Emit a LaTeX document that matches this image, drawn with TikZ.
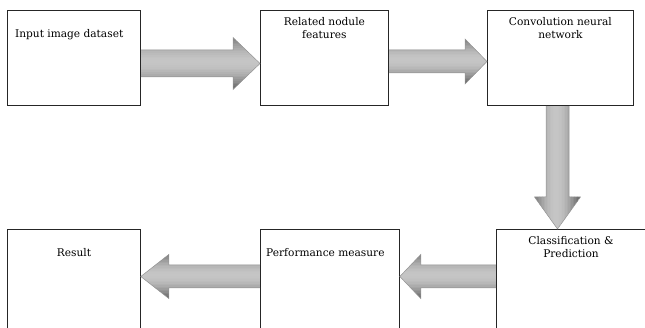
\documentclass[tikz,border=0pt]{standalone}
\usepackage{fontspec}
\setmainfont{DejaVu Serif}
\usetikzlibrary{calc}
% horizontal block arrow: #1 start, #2 tip, #3 shaft half width, #4 head half width, #5 head length (signed)
\newcommand\hblockarrow[5]{%
  \begin{scope}
    \clip let \p1=(#1), \p2=(#2) in
      (\x1,\y1+#3pt) -- (\x2-#5pt,\y1+#3pt) -- (\x2-#5pt,\y1+#4pt) -- (\x2,\y2)
      -- (\x2-#5pt,\y1-#4pt) -- (\x2-#5pt,\y1-#3pt) -- (\x1,\y1-#3pt) -- cycle;
    \foreach \i in {0,...,29}{%
      \pgfmathsetmacro\st{2*#4/30}%
      \pgfmathsetmacro\yo{-#4+\i*\st}%
      \pgfmathsetmacro\dk{52-34*sin(180*(\i+0.5)/30)+10*\i/30}%
      \fill[black!\dk] ($(#1)+(0,\yo)$) rectangle ($(#2)+(0,\yo+\st+0.4)$);
    }
  \end{scope}
  \draw[arrowline] let \p1=(#1), \p2=(#2) in
      (\x1,\y1+#3pt) -- (\x2-#5pt,\y1+#3pt) -- (\x2-#5pt,\y1+#4pt) -- (\x2,\y2)
      -- (\x2-#5pt,\y1-#4pt) -- (\x2-#5pt,\y1-#3pt) -- (\x1,\y1-#3pt);
}
% vertical (downward) block arrow
\newcommand\vblockarrow[5]{%
  \begin{scope}
    \clip let \p1=(#1), \p2=(#2) in
      (\x1-#3pt,\y1) -- (\x1-#3pt,\y2+#5pt) -- (\x1-#4pt,\y2+#5pt) -- (\x2,\y2)
      -- (\x1+#4pt,\y2+#5pt) -- (\x1+#3pt,\y2+#5pt) -- (\x1+#3pt,\y1) -- cycle;
    \foreach \i in {0,...,29}{%
      \pgfmathsetmacro\st{2*#4/30}%
      \pgfmathsetmacro\xo{-#4+\i*\st}%
      \pgfmathsetmacro\dk{52-34*sin(180*(\i+0.5)/30)+10*\i/30}%
      \fill[black!\dk] ($(#1)+(\xo,0)$) rectangle ($(#2)+(\xo+\st+0.4,0)$);
    }
  \end{scope}
  \draw[arrowline] let \p1=(#1), \p2=(#2) in
      (\x1-#3pt,\y1) -- (\x1-#3pt,\y2+#5pt) -- (\x1-#4pt,\y2+#5pt) -- (\x2,\y2)
      -- (\x1+#4pt,\y2+#5pt) -- (\x1+#3pt,\y2+#5pt) -- (\x1+#3pt,\y1);
}
\begin{document}
\begin{tikzpicture}[x=1pt,y=-1pt,
  box/.style={draw=black!85, line width=0.8pt, fill=white, inner sep=0pt, anchor=north west},
  lbl/.style={font=\fontsize{10.6}{13}\selectfont, text=black, align=center, inner sep=0pt},
  arrowline/.style={draw=black!42, line width=0.5pt, line join=miter}]
\useasboundingbox (0,0) rectangle (645,328);
\clip (0,0) rectangle (645,328);
% boxes
\node[box, minimum width=133, minimum height=95] (b1) at (7,10) {};
\node[box, minimum width=128, minimum height=95] (b2) at (260,10) {};
\node[box, minimum width=146, minimum height=95] (b3) at (487,10) {};
\node[box, minimum width=160, minimum height=120] (b4) at (496,229) {};
\node[box, minimum width=139, minimum height=120] (b5) at (260,229) {};
\node[box, minimum width=133, minimum height=120] (b6) at (7,229) {};
% labels
\node[lbl, anchor=west] (t1) at ($(b1.north west)+(8,25)$) {Input image dataset};
\node[lbl, anchor=north] (t2) at ($(b2.north)+(0,7)$) {Related nodule\\features};
\node[lbl, anchor=north] (t3) at ($(b3.north)+(0,7)$) {Convolution neural\\network};
\node[lbl, anchor=north] (t4) at ($(b4.north west)+(75,7)$) {Classification \&\\Prediction};
\node[lbl, anchor=west] (t5) at ($(b5.north west)+(6,24)$) {Performance measure};
\node[lbl] (t6) at ($(b6.north west)+(67,24)$) {Result};
% arrow end points
\coordinate (a1s) at ($(b1.north east)+(0,53.5)$);
\coordinate (a1t) at ($(b2.north west)+(0,53.5)$);
\coordinate (a2s) at ($(b2.north east)+(0,51.5)$);
\coordinate (a2t) at ($(b3.north west)+(0,51.5)$);
\coordinate (a3s) at ($(b3.south west)+(70.5,0)$);
\coordinate (a3t) at ($(b4.north west)+(61.5,0)$);
\coordinate (a4s) at ($(b4.north west)+(0,47.5)$);
\coordinate (a4t) at ($(b5.north east)+(0,47.5)$);
\coordinate (a5s) at ($(b5.north west)+(0,47.5)$);
\coordinate (a5t) at ($(b6.north east)+(0,47.5)$);
% arrows
\hblockarrow{a1s}{a1t}{13.5}{26}{27}
\hblockarrow{a2s}{a2t}{11.5}{22.5}{22}
\vblockarrow{a3s}{a3t}{11.5}{23}{32}
\hblockarrow{a4s}{a4t}{11.5}{22}{-21}
\hblockarrow{a5s}{a5t}{11.5}{22}{-28}
\end{tikzpicture}
\end{document}
